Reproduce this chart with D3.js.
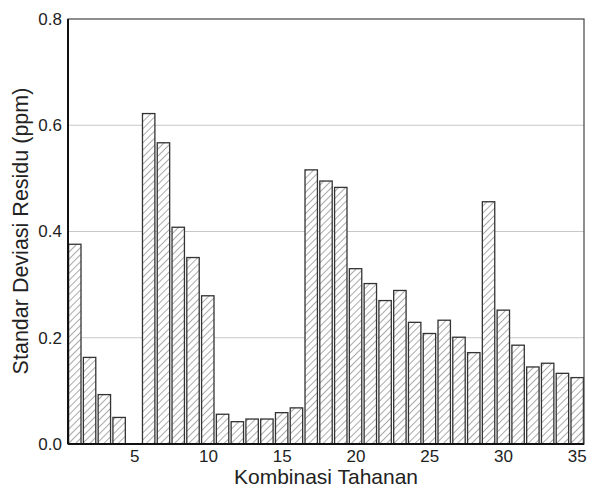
<!DOCTYPE html>
<html>
<head>
<meta charset="utf-8">
<script src="https://cdn.jsdelivr.net/npm/d3@7"></script>
<style>
body { margin:0; background:#fff; }
text { font-family: "Liberation Sans", Arial, sans-serif; fill:#222; }
</style>
</head>
<body>
<svg width="593" height="489"></svg>
<script>
var screen = {width:593, height:489}
var margins = {top:19, right:9, bottom:45, left:68}

// kombinasi 1..35
var categories = d3.range(1, 36)
var values = [0.376, 0.163, 0.093, 0.050, 0, 0.622, 0.567, 0.408, 0.351, 0.279,
              0.056, 0.042, 0.047, 0.047, 0.059, 0.068, 0.516, 0.495, 0.483, 0.330,
              0.302, 0.270, 0.289, 0.229, 0.208, 0.233, 0.201, 0.172, 0.456, 0.252,
              0.186, 0.145, 0.152, 0.133, 0.125]
var yTicks = [0, 0.2, 0.4, 0.6, 0.8]
var xTicks = [5, 10, 15, 20, 25, 30, 35]

var width = screen.width - margins.left - margins.right
var height = screen.height - margins.top - margins.bottom

var svg = d3.select("svg")

// hatch pattern
var pat = svg.append("defs").append("pattern")
    .attr("id", "hatch")
    .attr("patternUnits", "userSpaceOnUse")
    .attr("width", 5).attr("height", 5)
    .attr("patternTransform", "rotate(45)")
pat.append("rect").attr("width", 5).attr("height", 5).attr("fill", "#fff")
pat.append("line")
    .attr("x1", 0).attr("y1", 0).attr("x2", 0).attr("y2", 5)
    .attr("stroke", "#555").attr("stroke-width", 1)

var g = svg.append("g")
    .attr("transform", "translate(" + margins.left + "," + margins.top + ")")

var xScale = d3.scaleBand()
    .domain(categories)
    .range([0, width])
    .paddingInner(0.16)
    .paddingOuter(0.04)

var xLin = d3.scaleLinear().domain([0.5, 35.5]).range([0, width])

var yScale = d3.scaleLinear()
    .domain([0, 0.8])
    .range([height, 0])

// grid
g.append("g")
    .selectAll("line")
    .data(yTicks.slice(1, 4))
    .enter().append("line")
    .attr("x1", 0).attr("x2", width)
    .attr("y1", d => yScale(d)).attr("y2", d => yScale(d))
    .attr("stroke", "#c8c8c8").attr("stroke-width", 1.2)

// bars
g.append("g")
    .selectAll("rect")
    .data(values)
    .enter().append("rect")
    .attr("display", d => d > 0 ? null : "none")
    .attr("x", (d, i) => xScale(categories[i]))
    .attr("width", xScale.bandwidth())
    .attr("y", d => yScale(d))
    .attr("height", d => height - yScale(d))
    .attr("fill", "url(#hatch)")
    .attr("stroke", "#333")
    .attr("stroke-width", 1.3)

// frame
g.append("rect")
    .attr("width", width).attr("height", height)
    .attr("fill", "none").attr("stroke", "#444").attr("stroke-width", 1.2)
g.append("line").attr("x1", 0).attr("x2", 0).attr("y1", 0).attr("y2", height)
    .attr("stroke", "#111").attr("stroke-width", 2)
g.append("line").attr("x1", 0).attr("x2", width).attr("y1", height).attr("y2", height)
    .attr("stroke", "#111").attr("stroke-width", 2)

// axes
var yAxis = d3.axisLeft(yScale).tickValues(yTicks).tickFormat(d3.format(".1f")).tickSize(0).tickPadding(6)
var xAxis = d3.axisBottom(xLin).tickValues(xTicks).tickFormat(d3.format("d")).tickSize(0).tickPadding(6)

var ya = g.append("g").call(yAxis)
var xa = g.append("g").attr("transform", "translate(0," + height + ")").call(xAxis)
ya.select(".domain").remove()
xa.select(".domain").remove()
ya.selectAll("text").style("font-size", "17px").attr("fill", "#222")
xa.selectAll("text").style("font-size", "17px").attr("fill", "#222")

svg.append("text")
    .attr("x", margins.left + width / 2)
    .attr("y", 484)
    .attr("text-anchor", "middle")
    .style("font-size", "21px")
    .text("Kombinasi Tahanan")

svg.append("text")
    .attr("transform", "translate(28," + 231 + ") rotate(-90)")
    .attr("text-anchor", "middle")
    .style("font-size", "21.5px")
    .text("Standar Deviasi Residu (ppm)")
</script>
</body>
</html>
